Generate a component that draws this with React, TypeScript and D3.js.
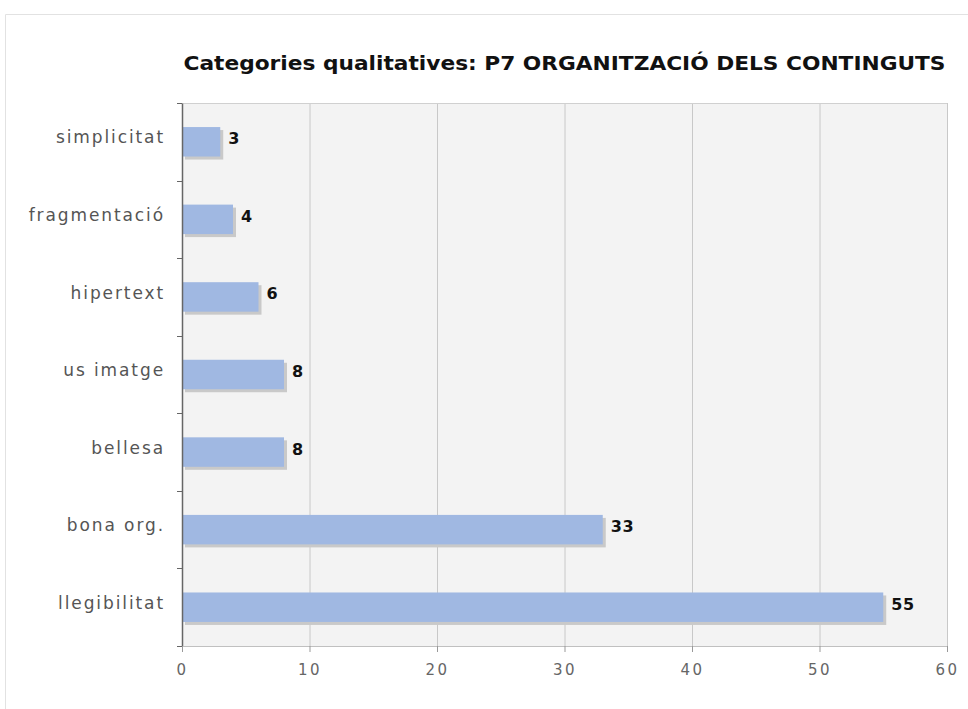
import React, { useEffect, useRef } from "react";
import * as d3 from "d3";

const categories = ["simplicitat", "fragmentació", "hipertext", "us imatge", "bellesa", "bona org.", "llegibilitat"];
const values = [3, 4, 6, 8, 8, 33, 55];
const xTicks = [0, 10, 20, 30, 40, 50, 60];
const title = "Categories qualitatives: P7 ORGANITZACIÓ DELS CONTINGUTS";

const W = 968;
const H = 709;
const margin = { left: 182, top: 103, right: 21, bottom: 63 };

const App = () => {
  const svgRef = useRef(null);

  useEffect(() => {
    const svg = d3.select(svgRef.current);
    svg.selectAll("*").remove();

    const x = d3.scaleLinear().domain([0, 60]).range([margin.left, W - margin.right]);
    const y = d3.scaleBand().domain(categories).range([margin.top, H - margin.bottom]);
    const barH = y.bandwidth() * 0.38;

    // outer frame
    svg.append("path")
      .attr("d", `M5.5,${H} V14.5 H${W}`)
      .attr("fill", "none")
      .attr("stroke", "#e2e2e2");

    // plot background
    svg.append("rect")
      .attr("x", margin.left)
      .attr("y", margin.top)
      .attr("width", x(60) - margin.left)
      .attr("height", H - margin.bottom - margin.top)
      .attr("fill", "#f3f3f3");

    // grid
    svg.append("g").selectAll("line")
      .data(xTicks.slice(1))
      .join("line")
      .attr("x1", (d) => x(d) + 0.5)
      .attr("x2", (d) => x(d) + 0.5)
      .attr("y1", margin.top)
      .attr("y2", H - margin.bottom)
      .attr("stroke", "#c8c8c8");

    svg.append("line")
      .attr("x1", margin.left)
      .attr("x2", x(60))
      .attr("y1", margin.top + 0.5)
      .attr("y2", margin.top + 0.5)
      .attr("stroke", "#d0d0d0");

    // bars with shadow
    const bars = svg.append("g").selectAll("g")
      .data(categories)
      .join("g");

    bars.append("rect")
      .attr("x", x(0) + 3)
      .attr("y", (d) => y(d) + (y.bandwidth() - barH) / 2 + 3)
      .attr("width", (d, i) => x(values[i]) - x(0))
      .attr("height", barH)
      .attr("fill", "#c9c9c9");

    bars.append("rect")
      .attr("x", x(0))
      .attr("y", (d) => y(d) + (y.bandwidth() - barH) / 2)
      .attr("width", (d, i) => x(values[i]) - x(0))
      .attr("height", barH)
      .attr("fill", "#a0b8e2");

    bars.append("text")
      .attr("x", (d, i) => x(values[i]) + 8)
      .attr("y", (d) => y(d) + y.bandwidth() / 2 - 2)
      .attr("dominant-baseline", "middle")
      .attr("font-family", "DejaVu Sans, Verdana, sans-serif")
      .attr("font-weight", "bold")
      .attr("font-size", 16)
      .attr("letter-spacing", "0.5px")
      .attr("fill", "#111")
      .text((d, i) => values[i]);

    // left axis
    const yAxis = d3.axisLeft(y).tickSize(0).tickPadding(17);
    const gy = svg.append("g").attr("transform", `translate(${margin.left},0)`).call(yAxis);
    gy.select(".domain").attr("stroke", "#666").attr("stroke-width", 1.5);
    gy.selectAll("text")
      .attr("font-family", "DejaVu Sans, Verdana, sans-serif")
      .attr("font-size", 17)
      .attr("letter-spacing", "1.9px")
      .attr("fill", "#555")
      .attr("dy", "0.1em");

    const bounds = categories.map((c) => y(c)).concat([H - margin.bottom]);
    svg.append("g").selectAll("line")
      .data(bounds)
      .join("line")
      .attr("x1", margin.left - 5)
      .attr("x2", margin.left)
      .attr("y1", (d) => Math.round(d) + 0.5)
      .attr("y2", (d) => Math.round(d) + 0.5)
      .attr("stroke", "#666");

    // bottom axis
    const xAxis = d3.axisBottom(x).tickValues(xTicks).tickSize(6).tickPadding(12);
    const gx = svg.append("g").attr("transform", `translate(0,${H - margin.bottom})`).call(xAxis);
    gx.select(".domain").attr("stroke", "#c0c0c0");
    gx.selectAll(".tick line").attr("stroke", "#999");
    gx.selectAll("text")
      .attr("font-family", "DejaVu Sans, Verdana, sans-serif")
      .attr("font-size", 15)
      .attr("letter-spacing", "2.5px")
      .attr("fill", "#666");

    // title
    svg.append("text")
      .attr("x", (x(0) + x(60)) / 2)
      .attr("y", 70)
      .attr("text-anchor", "middle")
      .attr("font-family", "DejaVu Sans, sans-serif")
      .attr("font-weight", "bold")
      .attr("font-size", 20)
      .attr("textLength", 762)
      .attr("lengthAdjust", "spacingAndGlyphs")
      .attr("fill", "#111")
      .text(title);
  }, []);

  return (
    <svg
      ref={svgRef}
      width={W}
      height={H}
      style={{ position: "absolute", left: 0, top: 0, background: "#fff" }}
    />
  );
};

export default App;
